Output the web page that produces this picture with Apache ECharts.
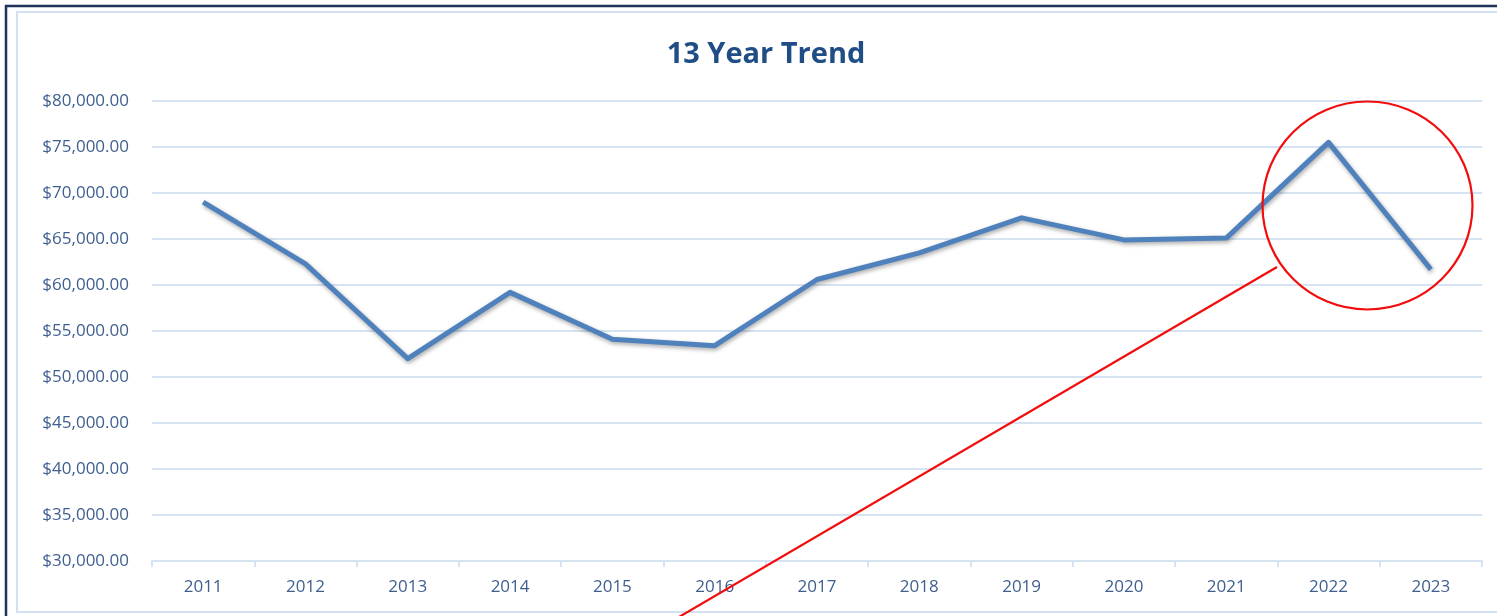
<!DOCTYPE html>
<html>
<head>
<meta charset="utf-8">
<script src="https://cdn.jsdelivr.net/npm/echarts@6/dist/echarts.min.js"></script>
<style>
  html, body { margin: 0; padding: 0; background: #ffffff; }
  #chart { width: 1497px; height: 616px; }
</style>
</head>
<body>
<div id="chart"></div>
<script>
// Yearly values, 2011–2023
const years = ['2011', '2012', '2013', '2014', '2015', '2016', '2017', '2018', '2019', '2020', '2021', '2022', '2023'];
const amounts = [69000, 62300, 52000, 59200, 54100, 53400, 60600, 63500, 67300, 64900, 65100, 75500, 61700];
const yMin = 30000;
const yMax = 80000;
const yStep = 5000;

const labelColor = '#3F5F8F';
const gridColor = '#D6E3F3';
const fontFamily = '"Open Sans", "Noto Sans", sans-serif';

const chart = echarts.init(document.getElementById('chart'), null, { renderer: 'canvas' });

function money(v) {
  return '$' + v.toLocaleString('en-US', { minimumFractionDigits: 2, maximumFractionDigits: 2 });
}

chart.setOption({
  backgroundColor: '#ffffff',
  animation: false,
  title: {
    text: '13 Year Trend',
    left: 761,
    textAlign: 'center',
    top: 35,
    textStyle: { color: '#1F4E86', fontSize: 29, fontWeight: 'bold', fontFamily: fontFamily }
  },
  grid: { left: 152, right: 15, top: 101, bottom: 55, containLabel: false },
  xAxis: {
    type: 'category',
    data: years,
    boundaryGap: true,
    axisLine: { show: true, lineStyle: { color: gridColor, width: 2 } },
    axisTick: { show: true, length: 6, lineStyle: { color: gridColor, width: 2 } },
    axisLabel: { color: labelColor, fontSize: 17, margin: 18, fontFamily: fontFamily },
    splitLine: { show: false }
  },
  yAxis: {
    type: 'value',
    min: yMin,
    max: yMax,
    interval: yStep,
    axisLine: { show: false },
    axisTick: { show: false },
    axisLabel: { color: labelColor, fontSize: 17, margin: 23, fontFamily: fontFamily, formatter: money },
    splitLine: { show: true, lineStyle: { color: gridColor, width: 2 } }
  },
  series: [{
    type: 'line',
    data: amounts,
    symbol: 'none',
    lineStyle: {
      color: '#4F81BD',
      width: 5,
      shadowColor: 'rgba(0,0,0,0.35)',
      shadowBlur: 4,
      shadowOffsetX: 1,
      shadowOffsetY: 2,
      join: 'round'
    },
    z: 3
  }],
  graphic: [
    // chart frame
    { type: 'rect', shape: { x: 6, y: 6, width: 1500, height: 620 }, style: { fill: 'none', stroke: '#1F3458', lineWidth: 2.5 }, z: 10 },
    { type: 'rect', shape: { x: 17, y: 12, width: 1500, height: 600 }, style: { fill: 'none', stroke: '#D2E0F2', lineWidth: 2 }, z: 10 },
    // red highlight around the last two years
    { type: 'ellipse', shape: { cx: 1367.5, cy: 205.5, rx: 105, ry: 104 }, style: { fill: 'none', stroke: '#F20D0D', lineWidth: 2.2 }, z: 20 },
    { type: 'line', shape: { x1: 1277, y1: 267, x2: 679, y2: 617 }, style: { stroke: '#F20D0D', lineWidth: 2.2 }, z: 20 }
  ]
});
</script>
</body>
</html>
